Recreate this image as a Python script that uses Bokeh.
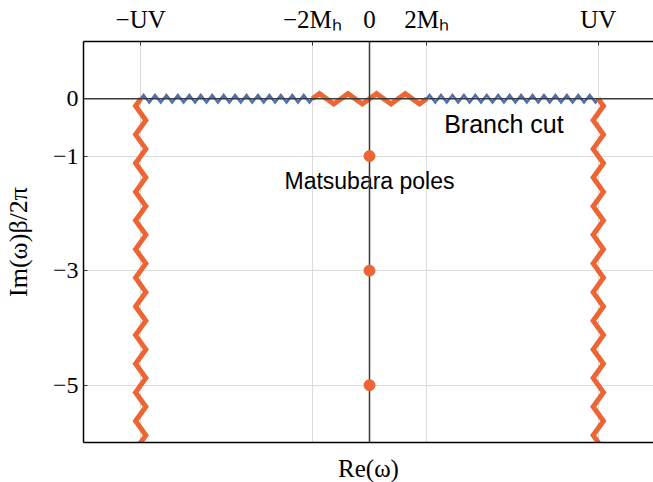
import math
from bokeh.plotting import figure
from bokeh.models import Range1d, LinearAxis, FixedTicker, Span
from bokeh.core.properties import value
from bokeh.embed import file_html
from bokeh.resources import INLINE

# ---- data -------------------------------------------------------------
x_ticks = [-4, -1, 0, 1, 4]
x_tick_labels = ["\u2212UV", "\u22122M\u2095", "0", "2M\u2095", "UV"]
y_ticks = [0, -1, -3, -5]
y_tick_labels = ["0", "\u22121", "\u22123", "\u22125"]
uv = 4.0            # UV cutoff position on Re(omega)
two_mh = 1.0        # 2 M_h threshold position
cut_bottom = -6.5   # vertical cuts run down past the frame
pole_re = [0, 0, 0]
pole_im = [-1, -3, -5]

ORANGE = "#EC6532"
BLUE = "#4C72B0"
SERIF = "Liberation Serif"
SANS = "Liberation Sans"


def zigzag(p0, p1, period, amp, side=1):
    """Vertices of a zigzag from p0 to p1 (decorative cut line)."""
    (x0, y0), (x1, y1) = p0, p1
    L = math.hypot(x1 - x0, y1 - y0)
    dx, dy = (x1 - x0) / L, (y1 - y0) / L
    nx, ny = -dy * side, dx * side
    n = int(round(L / period))
    per = L / n
    ts, offs = [0.0], [0.0]
    for k in range(n):
        ts += [(k + 0.25) * per, (k + 0.75) * per]
        offs += [amp, -amp]
    ts.append(L)
    offs.append(0.0)
    xs = [x0 + t * dx + o * nx for t, o in zip(ts, offs)]
    ys = [y0 + t * dy + o * ny for t, o in zip(ts, offs)]
    return xs, ys


p = figure(frame_width=570, frame_height=401,
           x_range=Range1d(-5, 4.965), y_range=Range1d(-6, 1),
           x_axis_location="above",
           min_border_left=83, min_border_right=0,
           min_border_top=41, min_border_bottom=40,
           output_backend="svg", toolbar_location=None)
p.outline_line_color = None
p.background_fill_color = "white"
p.border_fill_color = "white"

# top axis
xa = p.xaxis[0]
xa.ticker = FixedTicker(ticks=x_ticks)
xa.major_label_overrides = {t: l for t, l in zip(x_ticks, x_tick_labels)}
xa.major_tick_in = 4
xa.major_tick_out = 0
xa.minor_tick_line_color = None
xa.axis_line_color = "black"
xa.axis_line_width = 1.5
xa.major_tick_line_color = "#333333"
xa.major_label_text_font = SERIF
xa.major_label_text_font_size = "25px"
xa.major_label_text_color = "black"
xa.major_label_standoff = 9

# left axis
ya = p.yaxis[0]
ya.ticker = FixedTicker(ticks=y_ticks)
ya.major_label_overrides = {t: l for t, l in zip(y_ticks, y_tick_labels)}
ya.major_tick_in = 4
ya.major_tick_out = 0
ya.minor_tick_line_color = None
ya.axis_line_color = "black"
ya.axis_line_width = 1.5
ya.major_tick_line_color = "#333333"
ya.major_label_text_font = SERIF
ya.major_label_text_font_size = "24px"
ya.major_label_text_color = "black"
ya.major_label_standoff = 5
ya.axis_label = "Im(\u03c9)\u03b2/2\u03c0"
ya.axis_label_text_font = SERIF
ya.axis_label_text_font_size = "26px"
ya.axis_label_text_font_style = "normal"
ya.axis_label_text_color = "black"
ya.axis_label_standoff = 17

# bottom axis (label only)
bx = LinearAxis(ticker=FixedTicker(ticks=[]), axis_label="Re(\u03c9)")
bx.major_label_text_font_size = "0px"
bx.major_tick_line_color = None
bx.minor_tick_line_color = None
bx.axis_line_color = "black"
bx.axis_line_width = 1.5
bx.axis_label_text_font = SERIF
bx.axis_label_text_font_size = "25px"
bx.axis_label_text_font_style = "normal"
bx.axis_label_text_color = "black"
bx.axis_label_standoff = 12
p.add_layout(bx, "below")

# grids
p.xgrid[0].ticker = FixedTicker(ticks=[t for t in x_ticks if t != 0])
p.ygrid[0].ticker = FixedTicker(ticks=[t for t in y_ticks if t != 0])
p.xgrid.grid_line_color = "#dcdcdc"
p.ygrid.grid_line_color = "#dcdcdc"
p.xgrid.grid_line_width = 1
p.ygrid.grid_line_width = 1

# branch cuts (thin blue) along the real axis
for a, b in [(-uv, -two_mh), (two_mh, uv)]:
    xs, ys = zigzag((a, 0), (b, 0), 0.2, 0.065, side=1)
    p.line(xs, ys, line_color=BLUE, line_width=2.5, line_join="miter")

# thick orange cuts
xs, ys = zigzag((-two_mh, 0), (two_mh, 0), 0.5, 0.09, side=1)
p.line(xs, ys, line_color=ORANGE, line_width=5, line_join="miter")
xs, ys = zigzag((-uv, 0), (-uv, cut_bottom), 0.5, 0.09, side=-1)
p.line(xs, ys, line_color=ORANGE, line_width=5, line_join="miter")
xs, ys = zigzag((uv, 0), (uv, cut_bottom), 0.5, 0.09, side=1)
p.line(xs, ys, line_color=ORANGE, line_width=5, line_join="miter")

# axes lines through origin
p.add_layout(Span(location=0, dimension="height", line_color="#3a3a3a", line_width=1.5))
p.add_layout(Span(location=0, dimension="width", line_color="#3a3a3a", line_width=1.5))

# Matsubara poles
p.scatter(pole_re, pole_im, size=11, fill_color=ORANGE, line_color=ORANGE, level="overlay")

# annotations
p.text(x=[2.35], y=[-0.44], text=["Branch cut"], text_font=value(SANS),
       text_font_size="25px", text_align="center", text_baseline="alphabetic",
       text_color="black")
p.text(x=[0.0], y=[-1.44], text=["Matsubara poles"], text_font=value(SANS),
       text_font_size="23px", text_align="center", text_baseline="alphabetic",
       text_color="black")

open("out.html", "w").write(file_html(p, INLINE))
